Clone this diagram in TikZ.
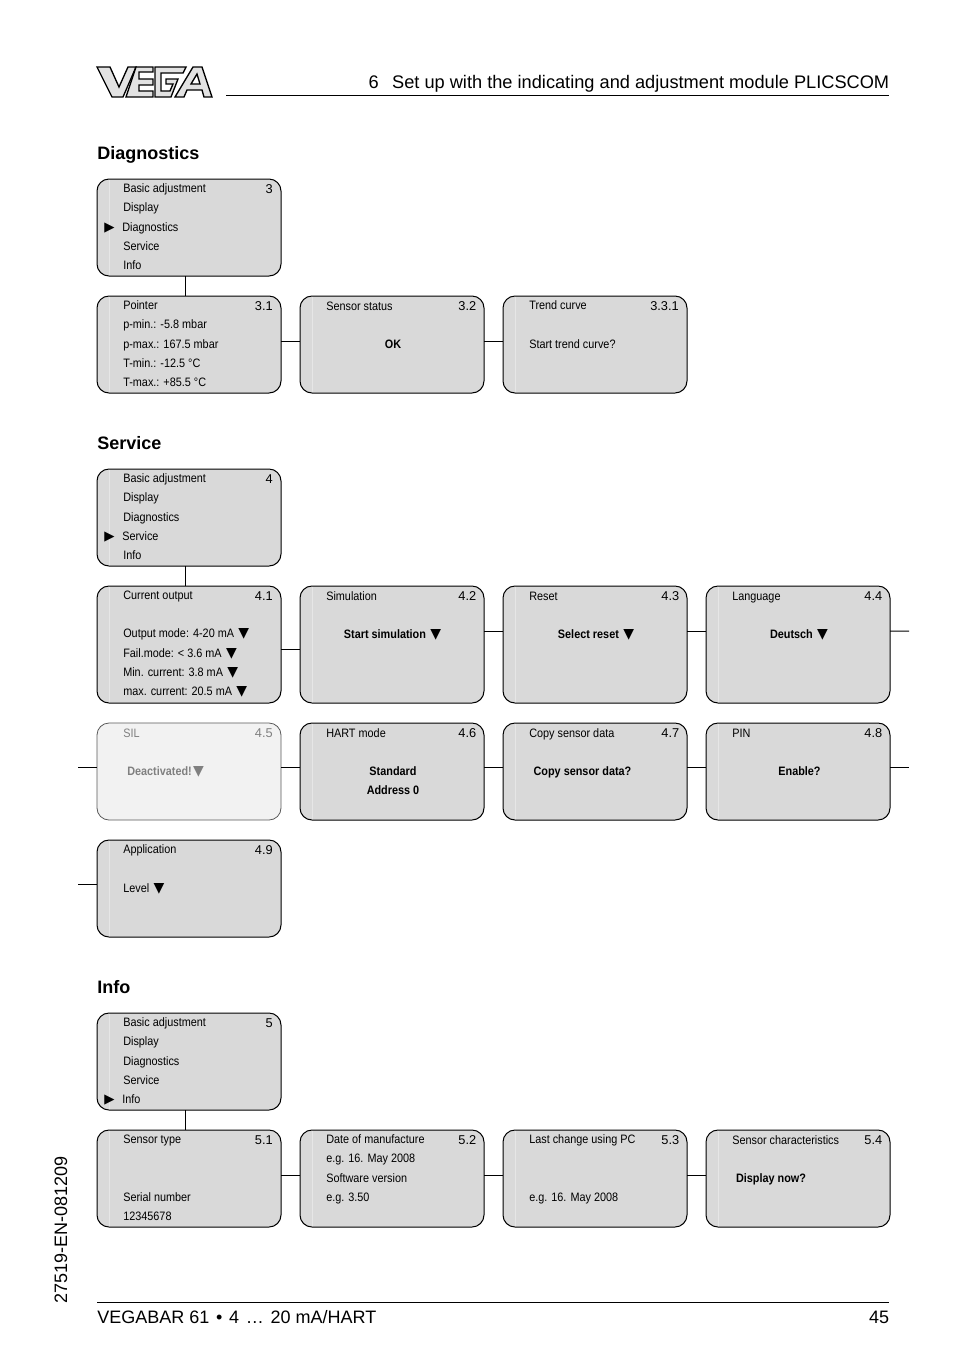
\documentclass[tikz,border=0pt]{standalone}
\usepackage{fontspec}
\setmainfont{Liberation Sans}
\newfontfamily\narrowfont[FakeStretch=0.89]{Liberation Sans}
\newfontfamily\symfont{DejaVu Sans}
\newcommand{\arrdown}{\hspace{1pt}{\symfont\fontsize{10.5}{14.45}\selectfont ▼}}
\newcommand{\arrsel}{\llap{{\symfont\fontsize{10}{14.45}\selectfont ▶}\hspace{6.4pt}}\hspace*{-.75pt}}
\definecolor{boxgray}{HTML}{D9D9D9}
\definecolor{silgray}{HTML}{F2F2F2}
\definecolor{logogray}{HTML}{E2E2E2}
\tikzset{
  menubox/.style={draw, line width=.75pt, fill=boxgray, rectangle, rounded corners=9pt, anchor=north west,
    inner sep=0pt, outer sep=0pt, minimum width=138pt, path picture={\draw[line width=.6pt, white!35!boxgray]
    ([xshift=9.5pt]path picture bounding box.south west) -- ([xshift=9.5pt]path picture bounding box.north west);}},
  silbox/.style={draw=black!65, line width=.6pt, fill=silgray, rectangle, rounded corners=9pt, anchor=north west,
    inner sep=0pt, outer sep=0pt, minimum width=138pt},
  boxtext/.style={inner sep=0pt, anchor=north west, align=left, execute at begin node={\strut},
    font=\narrowfont\fontsize{9.15}{14.45}\selectfont},
  boxlines/.style={boxtext, yshift=-3pt},
  boxbold/.style={inner sep=0pt, anchor=north, align=center, execute at begin node={\strut},
    font=\narrowfont\bfseries\fontsize{9.15}{14.45}\selectfont},
  boxnum/.style={inner sep=0pt, anchor=north east, execute at begin node={\strut},
    font=\fontsize{9.6}{14.45}\selectfont},
  heading/.style={inner sep=0pt, anchor=base west, font=\bfseries\fontsize{13.5}{16}\selectfont},
  pagetext/.style={inner sep=0pt, font=\fontsize{13.5}{16}\selectfont},
  link/.style={line width=.75pt},
  linkthick/.style={line width=1.15pt},
  logopart/.style={draw, line width=1pt, fill=logogray, line join=miter, even odd rule}
}
\begin{document}
\begin{tikzpicture}[x=0.75pt,y=-0.75pt]
\useasboundingbox (0,0) rectangle (954,1354);
% page head
\draw[logopart] (97,67) -- (110,67) -- (119,87) -- (128,67) -- (136,67) -- (123,97) -- (112,97) -- cycle;
\draw[logopart] (136,67) -- (153,67) -- (153,72) -- (139,72) -- (139,79) -- (153,79) -- (153,85) -- (139,85) -- (139,91) -- (153,91) -- (153,97) -- (126,97) -- cycle;
\draw[logopart] (155,67) -- (186,67) -- (183,73) -- (161,73) -- (161,91) -- (170,91) -- (173,84) -- (166,84) -- (166,79) -- (178,79) -- (171,97) -- (155,97) -- cycle;
\draw[logopart] (193,67) -- (202,67) -- (212,97) -- (204,97) -- (202,90) -- (187,90) -- (184,97) -- (175,97) -- cycle (197,74) -- (200,84) -- (191,84) -- cycle;
\node[pagetext, anchor=base east, font=\fontsize{13.66}{16}\selectfont] (headline) at (889.5,88) {6\hspace{10pt}Set up with the indicating and adjustment module PLICSCOM};
\coordinate (headL) at (226,95);
\coordinate (headR) at (889,95);
\draw[link] (headL) -- (headR);

% Diagnostics
\node[heading] (diag) at (97,159) {Diagnostics};
\node[menubox, minimum height=72.75pt] (m3) at (97,179) {};
\node[boxlines] (t3) at (123,179.5) {Basic adjustment\\Display\\\arrsel Diagnostics\\Service\\Info};
\node[boxnum] (n3) at (273,179.5) {3};
\node[menubox, minimum height=72.75pt] (p31) at (97,296) {};
\node[boxlines] (t31) at (123,296.5) {Pointer\\p-min.: -5.8 mbar\\p-max.: 167.5 mbar\\T-min.: -12.5 °C\\T-max.: +85.5 °C};
\node[boxnum] (n31) at (273,296.5) {3.1};
\node[menubox, minimum height=72.75pt] (p32) at (300,296) {};
\node[boxtext] (t32) at (326,296.5) {Sensor status};
\node[boxnum] (n32) at (476.5,296.5) {3.2};
\node[boxbold] (b32) at (393,335) {OK};
\node[menubox, minimum height=72.75pt] (p33) at (503,296) {};
\node[boxlines] (t33) at (529,296.5) {Trend curve\\[14.45pt]Start trend curve?};
\node[boxnum] (n33) at (679,296.5) {3.3.1};
\draw[link] ([xshift=-3pt]m3.south) -- ([xshift=-3pt]p31.north);
\draw[link] ([yshift=2.6pt]p31.east) -- ([yshift=2.6pt]p32.west);
\draw[link] ([yshift=2.6pt]p32.east) -- ([yshift=2.6pt]p33.west);

% Service
\node[heading] (serv) at (97,449) {Service};
\node[menubox, minimum height=72.75pt] (m4) at (97,469) {};
\node[boxlines] (t4) at (123,469.5) {Basic adjustment\\Display\\Diagnostics\\\arrsel Service\\Info};
\node[boxnum] (n4) at (273,469.5) {4};
\node[menubox, minimum height=87.75pt] (p41) at (97,586) {};
\node[boxlines] (t41) at (123,586.5) {Current output\\[14.45pt]Output mode: 4-20 mA \arrdown\\Fail.mode: < 3.6 mA \arrdown\\Min. current: 3.8 mA \arrdown\\max. current: 20.5 mA \arrdown};
\node[boxnum] (n41) at (273,586.5) {4.1};
\node[menubox, minimum height=87.75pt] (p42) at (300,586) {};
\node[boxtext] (t42) at (326,586.5) {Simulation};
\node[boxnum] (n42) at (476.5,586.5) {4.2};
\node[boxbold] (b42) at (392.5,625) {Start simulation \arrdown};
\node[menubox, minimum height=87.75pt] (p43) at (503,586) {};
\node[boxtext] (t43) at (529,586.5) {Reset};
\node[boxnum] (n43) at (679.5,586.5) {4.3};
\node[boxbold] (b43) at (596,625) {Select reset \arrdown};
\node[menubox, minimum height=87.75pt] (p44) at (706,586) {};
\node[boxtext] (t44) at (732,586.5) {Language};
\node[boxnum] (n44) at (882.5,586.5) {4.4};
\node[boxbold] (b44) at (799,625) {Deutsch \arrdown};
\node[silbox, minimum height=72.75pt] (p45) at (97,723) {};
\node[boxtext, text=black!50] (t45) at (123,723.5) {SIL};
\node[boxnum, text=black!50] (n45) at (273,723.5) {4.5};
\node[boxtext, text=black!50] (b45) at (127,762) {\bfseries Deactivated!\arrdown};
\node[menubox, minimum height=72.75pt] (p46) at (300,723) {};
\node[boxtext] (t46) at (326,723.5) {HART mode};
\node[boxnum] (n46) at (476.5,723.5) {4.6};
\node[boxbold, yshift=-3pt] (b46) at (393,762) {Standard\\Address 0};
\node[menubox, minimum height=72.75pt] (p47) at (503,723) {};
\node[boxtext] (t47) at (529,723.5) {Copy sensor data};
\node[boxnum] (n47) at (679.5,723.5) {4.7};
\node[boxbold] (b47) at (582.5,762) {Copy sensor data?};
\node[menubox, minimum height=72.75pt] (p48) at (706,723) {};
\node[boxtext] (t48) at (732,723.5) {PIN};
\node[boxnum] (n48) at (882.5,723.5) {4.8};
\node[boxbold] (b48) at (799.5,762) {Enable?};
\node[menubox, minimum height=72.75pt] (p49) at (97,840) {};
\node[boxlines] (t49) at (123,840.5) {Application\\[14.45pt]Level \arrdown};
\node[boxnum] (n49) at (273,840.5) {4.9};
\coordinate (stub44) at (909,631);
\coordinate (stub48) at (909,767.5);
\coordinate (stub45) at (78,767.5);
\coordinate (stub49) at (78,884.5);
\draw[link] ([xshift=-3pt]m4.south) -- ([xshift=-3pt]p41.north);
\draw[link] ([yshift=-4.1pt]p41.east) -- ([yshift=-4.1pt]p42.west);
\draw[link] ([yshift=10pt]p42.east) -- ([yshift=10pt]p43.west);
\draw[link] ([yshift=10pt]p43.east) -- ([yshift=10pt]p44.west);
\draw[link] ([yshift=10pt]p44.east) -- (stub44);
\draw[link] (stub45) -- ([yshift=3pt]p45.west);
\draw[linkthick] ([yshift=3pt]p45.east) -- ([yshift=3pt]p46.west);
\draw[linkthick] ([yshift=3pt]p46.east) -- ([yshift=3pt]p47.west);
\draw[linkthick] ([yshift=3pt]p47.east) -- ([yshift=3pt]p48.west);
\draw[linkthick] ([yshift=3pt]p48.east) -- (stub48);
\draw[link] (stub49) -- ([yshift=3pt]p49.west);

% Info
\node[heading] (info) at (97,993) {Info};
\node[menubox, minimum height=72.75pt] (m5) at (97,1013) {};
\node[boxlines] (t5) at (123,1013.5) {Basic adjustment\\Display\\Diagnostics\\Service\\\arrsel Info};
\node[boxnum] (n5) at (273,1013.5) {5};
\node[menubox, minimum height=72.75pt] (p51) at (97,1130) {};
\node[boxlines] (t51) at (123,1130.5) {Sensor type\\[28.9pt]Serial number\\12345678};
\node[boxnum] (n51) at (273,1130.5) {5.1};
\node[menubox, minimum height=72.75pt] (p52) at (300,1130) {};
\node[boxlines] (t52) at (326,1130.5) {Date of manufacture\\e.g. 16. May 2008\\Software version\\e.g. 3.50};
\node[boxnum] (n52) at (476.5,1130.5) {5.2};
\node[menubox, minimum height=72.75pt] (p53) at (503,1130) {};
\node[boxlines] (t53) at (529,1130.5) {Last change using PC\\[28.9pt]e.g. 16. May 2008};
\node[boxnum] (n53) at (679.5,1130.5) {5.3};
\node[menubox, minimum height=72.75pt] (p54) at (706,1130) {};
\node[boxtext] (t54) at (732,1130.5) {Sensor characteristics};
\node[boxnum] (n54) at (882.5,1130.5) {5.4};
\node[boxbold] (b54) at (771,1169) {Display now?};
\draw[link] ([xshift=-3pt]m5.south) -- ([xshift=-3pt]p51.north);
\draw[link] ([yshift=2.6pt]p51.east) -- ([yshift=2.6pt]p52.west);
\draw[link] ([yshift=2.6pt]p52.east) -- ([yshift=2.6pt]p53.west);
\draw[link] ([yshift=2.6pt]p53.east) -- ([yshift=2.6pt]p54.west);

% page foot
\node[pagetext, anchor=base west, rotate=90] (docno) at (67,1304) {27519-EN-081209};
\coordinate (footL) at (97,1302);
\coordinate (footR) at (889,1302);
\draw[link] (footL) -- (footR);
\node[pagetext, anchor=base west] (product) at (97,1323) {VEGABAR 61\hspace{1.3pt} •\hspace{1.3pt} 4\hspace{1.3pt} …\hspace{1.3pt} 20 mA/HART};
\node[pagetext, anchor=base east] (pageno) at (889.5,1323) {45};
\end{tikzpicture}
\end{document}
